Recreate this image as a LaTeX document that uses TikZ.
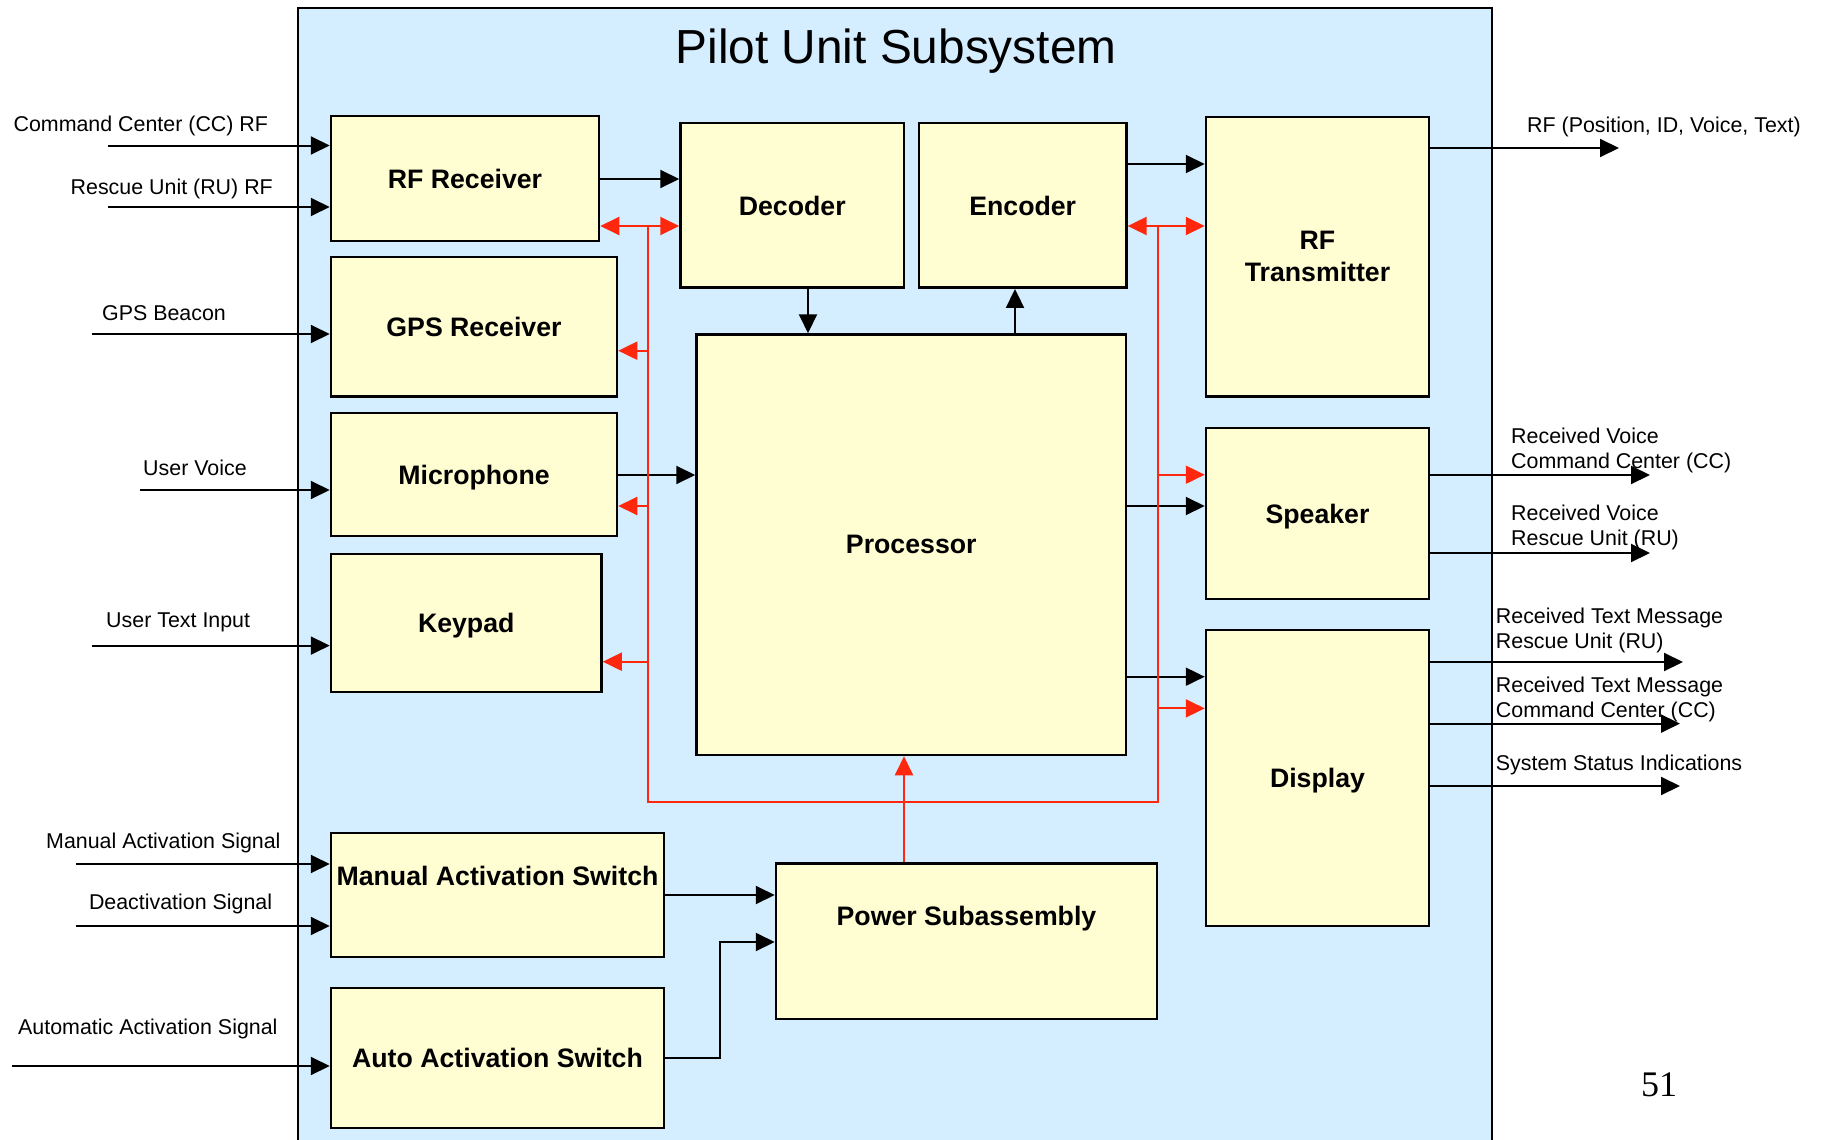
\documentclass[tikz,border=0pt]{standalone}
\usepackage{fontspec}
\setmainfont{Liberation Sans}
\newfontfamily\pagenumfont{Liberation Serif}
\usetikzlibrary{arrows.meta}
\definecolor{bgblue}{RGB}{212,238,255}
\definecolor{boxyel}{RGB}{255,253,210}
\definecolor{busred}{RGB}{255,40,15}
\begin{document}
\begin{tikzpicture}[x=1pt,y=-1pt,
  box/.style={draw=black, line width=2.5pt, fill=boxyel, inner sep=0pt, text depth=0pt,
    font=\fontsize{26.7}{32}\selectfont\bfseries, align=center},
  blbl/.style={font=\fontsize{26.7}{32}\selectfont\bfseries, inner sep=0pt, text depth=0pt},
  lbl/.style={font=\fontsize{21.4}{25}\selectfont, inner sep=0pt, anchor=west, align=left, yshift=-2.5pt},
  arr/.style={line width=2pt, -{Triangle[length=19pt,width=18pt]}},
  rarr/.style={draw=busred, line width=2pt, -{Triangle[length=19pt,width=18pt]}},
  rdbl/.style={draw=busred, line width=2pt, {Triangle[length=19pt,width=18pt]}-{Triangle[length=19pt,width=18pt]}},
  rline/.style={draw=busred, line width=2pt}
]
\useasboundingbox (0,0) rectangle (1824,1140);
\fill[white] (0,0) rectangle (1824,1140);
% container
\fill[bgblue] (298,8) rectangle (1491.5,1140);
\draw[line width=2pt] (298,1141) -- (298,8) -- (1491.5,8) -- (1491.5,1141);
\node[font=\fontsize{47.8}{56}\selectfont, inner sep=0pt] (title) at (896,51.5) {Pilot Unit Subsystem};

% boxes
\node[box, minimum width=268pt, minimum height=125pt] (rfrx) at (465,178.5) {RF Receiver};
\node[box, minimum width=223.5pt, minimum height=164.7pt] (dec) at (792.25,205.35) {Decoder};
\node[box, minimum width=207.4pt, minimum height=164.7pt] (enc) at (1022.7,205.35) {Encoder};
\node[box, minimum width=223pt, minimum height=279.5pt] (rftx) at (1317.5,256.75) {RF\\Transmitter};
\node[box, minimum width=286pt, minimum height=139.5pt] (gps) at (474,326.75) {GPS Receiver};
\node[box, minimum width=286pt, minimum height=123pt] (mic) at (474,474.5) {Microphone};
\node[box, minimum width=270.5pt, minimum height=138pt] (key) at (466.25,623) {Keypad};
\node[box, minimum width=429.5pt, minimum height=420.5pt] (proc) at (911.25,544.75) {Processor};
\node[box, minimum width=223pt, minimum height=171pt] (spk) at (1317.5,513.5) {Speaker};
\node[box, minimum width=223pt, minimum height=296pt] (disp) at (1317.5,778) {Display};
\node[box, minimum width=333pt, minimum height=124pt] (man) at (497.5,895) {};
\node[blbl] (manlbl) at (497.5,876) {Manual Activation Switch};
\node[box, minimum width=333pt, minimum height=140pt] (auto) at (497.5,1058) {Auto Activation Switch};
\node[box, minimum width=381pt, minimum height=155.5pt] (pwr) at (966.5,941.25) {};
\node[blbl] (pwrlbl) at (966.5,916) {Power Subassembly};

% left inputs
\coordinate (inCC) at (108,145.5);
\coordinate (inRU) at (108,207);
\coordinate (inGPS) at (92,334);
\coordinate (inVoice) at (139.6,490);
\coordinate (inText) at (92,645.6);
\coordinate (inMan) at (75.7,864);
\coordinate (inDeact) at (75.7,926);
\coordinate (inAuto) at (12,1066);
\draw[arr] (inCC) -- (rfrx.west |- inCC);
\draw[arr] (inRU) -- (rfrx.west |- inRU);
\draw[arr] (inGPS) -- (gps.west |- inGPS);
\draw[arr] (inVoice) -- (mic.west |- inVoice);
\draw[arr] (inText) -- (key.west |- inText);
\draw[arr] (inMan) -- (man.west |- inMan);
\draw[arr] (inDeact) -- (man.west |- inDeact);
\draw[arr] (inAuto) -- (auto.west |- inAuto);
\node[lbl] (lCC) at (13.4,123.5) {Command Center (CC) RF};
\node[lbl] (lRU) at (70.5,186) {Rescue Unit (RU) RF};
\node[lbl] (lGPS) at (102,311) {GPS Beacon};
\node[lbl] (lVoice) at (143,465) {User Voice};
\node[lbl] (lText) at (106,620) {User Text Input};
\node[lbl] (lMan) at (46,840) {Manual Activation Signal};
\node[lbl] (lDeact) at (88.8,901) {Deactivation Signal};
\node[lbl] (lAuto) at (18,1026) {Automatic Activation Signal};

% right outputs
\coordinate (outRF) at (1619,148);
\coordinate (outVCC) at (1650,475);
\coordinate (outVRU) at (1650,553);
\coordinate (outTRU) at (1683,662);
\coordinate (outTCC) at (1680,723.6);
\coordinate (outSS) at (1680,786);
\draw[arr] (rftx.east |- outRF) -- (outRF);
\draw[arr] (spk.east |- outVCC) -- (outVCC);
\draw[arr] (spk.east |- outVRU) -- (outVRU);
\draw[arr] (disp.east |- outTRU) -- (outTRU);
\draw[arr] (disp.east |- outTCC) -- (outTCC);
\draw[arr] (disp.east |- outSS) -- (outSS);
\node[lbl] (lRF) at (1527,124) {RF (Position, ID, Voice, Text)};
\node[lbl] (lVCC) at (1511,447.5) {Received Voice\\Command Center (CC)};
\node[lbl] (lVRU) at (1511,525.2) {Received Voice\\Rescue Unit (RU)};
\node[lbl] (lTRU) at (1495.7,628) {Received Text Message\\Rescue Unit (RU)};
\node[lbl] (lTCC) at (1495.7,696.5) {Received Text Message\\Command Center (CC)};
\node[lbl] (lSS) at (1495.7,762) {System Status Indications};

% internal black connectors
\draw[arr] (rfrx.east |- 0,179) -- (dec.west |- 0,179);
\draw[arr] (enc.east |- 0,164) -- (rftx.west |- 0,164);
\draw[arr] (dec.south -| 808,0) -- (proc.north -| 808,0);
\draw[arr] (proc.north -| 1015,0) -- (enc.south -| 1015,0);
\draw[arr] (mic.east |- 0,475) -- (proc.west |- 0,475);
\draw[arr] (proc.east |- 0,506) -- (spk.west |- 0,506);
\draw[arr] (proc.east |- 0,676.7) -- (disp.west |- 0,676.7);
\draw[arr] (man.east |- 0,895) -- (pwr.west |- 0,895);
\draw[arr] (auto.east |- 0,1057.7) -- (720,1057.7) -- (720,942) -- (pwr.west |- 0,942);

% red power bus
\coordinate (busLt) at (648,226);
\coordinate (busLb) at (648,801.7);
\coordinate (busRt) at (1157.5,226);
\coordinate (busRb) at (1157.5,801.7);
\draw[rline] (busLt) -- (busLb) -- (busRb) -- (busRt);
\draw[rdbl] (rfrx.east |- busLt) -- (dec.west |- busLt);
\draw[rdbl] (enc.east |- busRt) -- (rftx.west |- busRt);
\draw[rarr] (648,350.7) -- (gps.east |- 0,350.7);
\draw[rarr] (648,506) -- (mic.east |- 0,506);
\draw[rarr] (648,661.7) -- (key.east |- 0,661.7);
\draw[rarr] (1157.5,474.7) -- (spk.west |- 0,474.7);
\draw[rarr] (1157.5,708.4) -- (disp.west |- 0,708.4);
\draw[rarr] (pwr.north -| 904,0) -- (proc.south -| 904,0);

% page number
\node[font=\pagenumfont\fontsize{36}{40}\selectfont, inner sep=0pt] (pnum) at (1659,1085) {51};
\end{tikzpicture}
\end{document}
